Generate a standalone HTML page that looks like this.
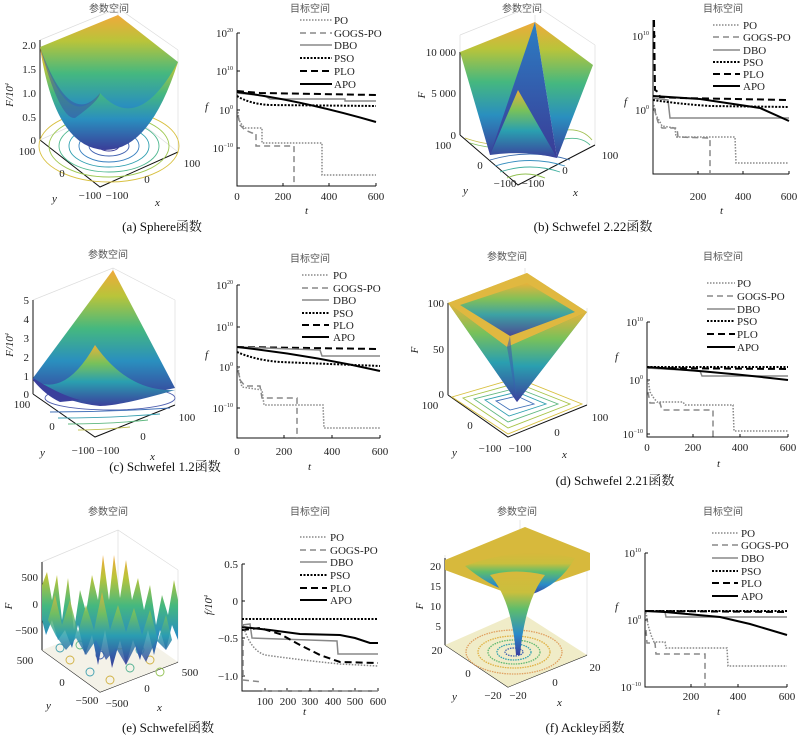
<!DOCTYPE html>
<html><head><meta charset="utf-8"><style>
body{margin:0;background:#fff}
svg{display:block}
.t{font-family:"Liberation Serif","Noto Serif CJK SC",serif;font-size:11px;fill:#222}
.s{font-size:6px}
.ti{font-family:"Noto Sans CJK SC",sans-serif;font-size:10px;fill:#555}
.cap{font-family:"Liberation Serif","Noto Serif CJK SC",serif;font-size:13px;fill:#111}
.it{font-style:italic}
.ax{stroke:#111;stroke-width:1;fill:none}
.gr{stroke:#ddd;stroke-width:0.7;fill:none}
.PO{stroke:#888;stroke-width:1.5;stroke-dasharray:1.5 1.5;fill:none}
.GO{stroke:#888;stroke-width:1.5;stroke-dasharray:6 4;fill:none}
.DB{stroke:#888;stroke-width:1.5;fill:none}
.PS{stroke:#000;stroke-width:2;stroke-dasharray:2 1.5;fill:none}
.PL{stroke:#000;stroke-width:2;stroke-dasharray:7 4;fill:none}
.AP{stroke:#000;stroke-width:2;fill:none}
</style></head><body>
<svg width="800" height="739" viewBox="0 0 800 739" xmlns="http://www.w3.org/2000/svg">
<defs>
<linearGradient id="g" x1="0" y1="0" x2="0" y2="1">
<stop offset="0" stop-color="#f0a93a"/><stop offset="0.2" stop-color="#b9c43a"/><stop offset="0.45" stop-color="#45b87f"/><stop offset="0.7" stop-color="#2a8fbf"/><stop offset="1" stop-color="#3a3d98"/></linearGradient>
<linearGradient id="g2" x1="0" y1="0" x2="0" y2="1">
<stop offset="0" stop-color="#e8b13a"/><stop offset="0.3" stop-color="#78c15a"/><stop offset="0.6" stop-color="#2a9fb0"/><stop offset="1" stop-color="#3b3f9c"/></linearGradient>
<linearGradient id="gd" x1="0" y1="0" x2="0" y2="1">
<stop offset="0" stop-color="#2c7fc4"/><stop offset="1" stop-color="#3a3b96"/></linearGradient>
<linearGradient id="gk" x1="0" y1="0" x2="0" y2="1">
<stop offset="0" stop-color="#d7b83c"/><stop offset="0.25" stop-color="#c9bf3d"/><stop offset="0.45" stop-color="#5ebd6c"/><stop offset="0.75" stop-color="#2a8bc8"/><stop offset="1" stop-color="#3a3ea0"/></linearGradient>
</defs>

<!-- ===== (a) ===== -->
<text class="ti" x="109" y="12" text-anchor="middle">参数空间</text>
<g class="gr"><path d="M118,105 L118,10 M40,140 L40,40 M178,152 L178,50 M40,40 L118,8 L178,50 M118,105 L40,140 M118,105 L178,152"/></g>
<path d="M40,140 L100,187 L178,152" class="ax"/><path d="M40,140 L40,40" class="ax"/>
<g fill="none" stroke-width="0.9">
<ellipse cx="109" cy="146" rx="70" ry="36" stroke="#d8c040"/><ellipse cx="109" cy="146" rx="60" ry="31" stroke="#9ec850"/><ellipse cx="109" cy="146" rx="50" ry="26" stroke="#50b890"/><ellipse cx="109" cy="146" rx="40" ry="21" stroke="#30a0b0"/><ellipse cx="109" cy="146" rx="30" ry="16" stroke="#3880c0"/><ellipse cx="109" cy="146" rx="20" ry="10" stroke="#4060b0"/><ellipse cx="109" cy="146" rx="10" ry="5" stroke="#3e3e98"/></g>
<path d="M40,47 L118,15 L178,62 Q150,140 105,145 Q55,140 40,47 Z" fill="url(#g)"/>
<path d="M40,47 Q68,135 100,93 Q138,135 178,62 Q150,150 105,150 Q55,148 40,47 Z" fill="url(#g)"/>
<path d="M40,47 Q60,120 75,118 Q100,100 100,93 Q70,130 40,47 Z" fill="#3b4ea0" opacity="0.5"/>
<g class="t" text-anchor="end"><text x="36" y="49">2.0</text><text x="36" y="73">1.5</text><text x="36" y="97">1.0</text><text x="36" y="121">0.5</text><text x="36" y="144">0</text></g>
<text class="t it" transform="translate(13,95) rotate(-90)" text-anchor="middle">F/10<tspan class="s" dy="-4">4</tspan></text>
<g class="t" text-anchor="middle"><text x="27" y="155">100</text><text x="62" y="177">0</text><text x="90" y="199">−100</text><text x="117" y="199">−100</text><text x="147" y="183">0</text><text x="192" y="167">100</text></g>
<text class="t it" x="52" y="202">y</text><text class="t it" x="155" y="206">x</text>

<text class="ti" x="310" y="12" text-anchor="middle">目标空间</text>
<path class="ax" d="M237,33 L237,186 L376,186"/>
<g class="ax"><path d="M237,33h3M237,71h3M237,110h3M237,148h3M283,186v-3M329,186v-3M376,186v-3"/></g>
<g class="t" text-anchor="end"><text x="233" y="37">10<tspan class="s" dy="-5">20</tspan></text><text x="233" y="75">10<tspan class="s" dy="-5">10</tspan></text><text x="233" y="114">10<tspan class="s" dy="-5">0</tspan></text><text x="233" y="152">10<tspan class="s" dy="-5">−10</tspan></text></g>
<g class="t" text-anchor="middle"><text x="237" y="200">0</text><text x="283" y="200">200</text><text x="329" y="200">400</text><text x="376" y="200">600</text></g>
<text class="t it" x="205" y="110">f</text><text class="t it" x="305" y="214">t</text>
<path class="PO" d="M300,20h32"/><path class="GO" d="M300,33h32"/><path class="DB" d="M300,45h32"/><path class="PS" d="M300,58h32"/><path class="PL" d="M300,71h32"/><path class="AP" d="M300,84h32"/>
<g class="t"><text x="334" y="24">PO</text><text x="334" y="37">GOGS-PO</text><text x="334" y="49">DBO</text><text x="334" y="62">PSO</text><text x="334" y="75">PLO</text><text x="334" y="88">APO</text></g>
<path class="PL" d="M237,91 L260,93 L376,95"/>
<path class="DB" d="M237,93 L265,96 L270,99 L345,99 L345,101 L376,101"/>
<path class="PS" d="M237,96 Q250,104 270,105 L376,106"/>
<path class="AP" d="M237,92 Q300,100 376,122"/>
<path class="PO" d="M238,112 L239,120 L242,125 L245,128 L262,128 L262,143 L322,143 L322,175 L376,175"/>
<path class="GO" d="M238,115 L240,125 L245,130 L252,133 L256,133 L256,146 L294,146 L294,186"/>
<text class="cap" x="162" y="231" text-anchor="middle">(a) Sphere函数</text>

<!-- ===== (b) ===== -->
<text class="ti" x="522" y="12" text-anchor="middle">参数空间</text>
<g class="gr"><path d="M535,100 L535,15 M460,135 L460,35 M595,145 L595,45 M460,35 L535,5 L595,45"/></g>
<path d="M460,135 L518,185 L595,145" class="ax"/><path d="M460,135 L460,52" class="ax"/>
<g fill="none" stroke-width="0.9">
<path d="M465,138 Q500,150 520,140" stroke="#c8c050"/><path d="M470,143 Q500,152 525,145" stroke="#80c060"/><path d="M490,160 Q530,148 570,160" stroke="#4070b0"/><path d="M495,166 Q530,155 565,166" stroke="#3a90c0"/><path d="M500,172 Q530,162 560,172" stroke="#40b0a0"/><path d="M507,178 Q525,170 545,178" stroke="#90c050"/><path d="M560,140 Q580,135 590,145" stroke="#50b890"/><path d="M555,132 Q580,125 592,140" stroke="#a0c050"/></g>
<path d="M460,52 L490,155 L518,122 L535,22 Z" fill="url(#g)"/>
<path d="M535,22 L557,158 L593,65 Z" fill="url(#g)"/>
<path d="M490,155 L535,22 L557,158 L518,120 Z" fill="url(#gd)"/>
<path d="M490,155 L518,90 L557,158 Q525,150 490,155 Z" fill="url(#g2)"/>
<g class="t" text-anchor="end"><text x="456" y="56">10 000</text><text x="456" y="97">5 000</text><text x="456" y="139">0</text></g>
<text class="t it" transform="translate(425,95) rotate(-90)" text-anchor="middle">F</text>
<g class="t" text-anchor="middle"><text x="443" y="149">100</text><text x="480" y="169">0</text><text x="505" y="187">−100</text><text x="533" y="187">−100</text><text x="565" y="174">0</text><text x="610" y="159">100</text></g>
<text class="t it" x="463" y="194">y</text><text class="t it" x="573" y="196">x</text>

<text class="ti" x="723" y="12" text-anchor="middle">目标空间</text>
<path class="ax" d="M653,20 L653,174 L789,174"/>
<g class="ax"><path d="M653,36h3M653,110h3M698,174v-3M743,174v-3M789,174v-3"/></g>
<g class="t" text-anchor="end"><text x="649" y="40">10<tspan class="s" dy="-5">10</tspan></text><text x="649" y="114">10<tspan class="s" dy="-5">0</tspan></text></g>
<g class="t" text-anchor="middle"><text x="698" y="200">200</text><text x="743" y="200">400</text><text x="789" y="200">600</text></g>
<text class="t it" x="624" y="105">f</text><text class="t it" x="720" y="214">t</text>
<path class="PO" d="M713,25h27"/><path class="GO" d="M713,37h27"/><path class="DB" d="M713,50h27"/><path class="PS" d="M713,62h27"/><path class="PL" d="M713,74h27"/><path class="AP" d="M713,86h27"/>
<g class="t"><text x="743" y="29">PO</text><text x="743" y="41">GOGS-PO</text><text x="743" y="54">DBO</text><text x="743" y="66">PSO</text><text x="743" y="78">PLO</text><text x="743" y="90">APO</text></g>
<path class="PL" d="M654,20 L655,90 L658,92 L660,97 L680,98 L789,100"/>
<path class="DB" d="M653,98 L668,100 L670,118 L789,118"/>
<path class="PS" d="M653,100 Q680,104 710,106 L789,107"/>
<path class="AP" d="M653,96 L700,99 L760,108 L789,121"/>
<path class="PO" d="M654,105 L656,115 L660,122 L662,126 L675,128 L676,137 L735,137 L736,163 L789,163"/>
<path class="GO" d="M654,108 L658,122 L662,128 L677,128 L678,137 L710,138 L710,174"/>
<text class="cap" x="593" y="231" text-anchor="middle">(b) Schwefel 2.22函数</text>

<!-- ===== (c) ===== -->
<text class="ti" x="108" y="258" text-anchor="middle">参数空间</text>
<g class="gr"><path d="M113,355 L113,268 M33,394 L33,300 M175,405 L175,300 M33,300 L113,268 L175,300"/></g>
<path d="M33,394 L95,437 L175,405" class="ax"/><path d="M33,394 L33,300" class="ax"/>
<g fill="none" stroke-width="0.9">
<ellipse cx="110" cy="398" rx="65" ry="12" stroke="#5060b0"/><path d="M50,412 Q110,412 170,408" stroke="#4070b8"/><path d="M58,418 Q110,418 160,414" stroke="#3aa0b0"/><path d="M68,424 Q110,424 148,420" stroke="#60b880"/><path d="M78,430 Q100,430 130,427" stroke="#c0c050"/></g>
<path d="M33,378 L113,270 L175,388 Q120,400 95,400 Q50,395 33,378 Z" fill="url(#g)"/>
<path d="M33,380 Q65,398 95,345 Q128,392 175,390 Q120,406 100,406 Q60,402 33,380 Z" fill="url(#g2)"/>
<path d="M33,378 Q60,395 80,400 L60,402 Q45,395 33,380 Z" fill="#3a3f9c"/>
<g class="t" text-anchor="end"><text x="29" y="304">5</text><text x="29" y="323">4</text><text x="29" y="342">3</text><text x="29" y="361">2</text><text x="29" y="380">1</text><text x="29" y="398">0</text></g>
<text class="t it" transform="translate(13,345) rotate(-90)" text-anchor="middle">F/10<tspan class="s" dy="-4">4</tspan></text>
<g class="t" text-anchor="middle"><text x="22" y="408">100</text><text x="52" y="430">0</text><text x="83" y="454">−100</text><text x="108" y="454">−100</text><text x="143" y="440">0</text><text x="187" y="421">100</text></g>
<text class="t it" x="40" y="456">y</text><text class="t it" x="150" y="460">x</text>

<text class="ti" x="310" y="262" text-anchor="middle">目标空间</text>
<path class="ax" d="M237,285 L237,438 L380,438"/>
<g class="ax"><path d="M237,285h3M237,327h3M237,367h3M237,408h3M284,438v-3M332,438v-3M380,438v-3"/></g>
<g class="t" text-anchor="end"><text x="233" y="289">10<tspan class="s" dy="-5">20</tspan></text><text x="233" y="331">10<tspan class="s" dy="-5">10</tspan></text><text x="233" y="371">10<tspan class="s" dy="-5">0</tspan></text><text x="233" y="412">10<tspan class="s" dy="-5">−10</tspan></text></g>
<g class="t" text-anchor="middle"><text x="237" y="455">0</text><text x="284" y="455">200</text><text x="332" y="455">400</text><text x="380" y="455">600</text></g>
<text class="t it" x="205" y="358">f</text><text class="t it" x="308" y="470">t</text>
<path class="PO" d="M302,275h27"/><path class="GO" d="M302,288h27"/><path class="DB" d="M302,300h27"/><path class="PS" d="M302,313h27"/><path class="PL" d="M302,325h27"/><path class="AP" d="M302,337h27"/>
<g class="t"><text x="333" y="279">PO</text><text x="333" y="292">GOGS-PO</text><text x="333" y="304">DBO</text><text x="333" y="317">PSO</text><text x="333" y="329">PLO</text><text x="333" y="341">APO</text></g>
<path class="PL" d="M237,347 L380,349"/>
<path class="DB" d="M237,347 L320,350 L322,356 L380,356"/>
<path class="PS" d="M237,352 Q255,360 280,362 L380,366"/>
<path class="AP" d="M237,347 Q310,355 380,371"/>
<path class="PO" d="M238,367 L240,380 L242,387 L262,390 L264,405 L323,405 L324,428 L380,428"/>
<path class="GO" d="M238,370 L240,380 L245,386 L260,386 L262,398 L297,398 L297,438"/>
<text class="cap" x="165" y="471" text-anchor="middle">(c) Schwefel 1.2函数</text>

<!-- ===== (d) ===== -->
<text class="ti" x="507" y="260" text-anchor="middle">参数空间</text>
<g class="gr"><path d="M525,360 L525,268 M448,395 L448,300 M587,405 L587,308"/></g>
<path d="M448,395 L508,437 L587,405" class="ax"/><path d="M448,395 L448,303" class="ax"/>
<g fill="none" stroke-width="0.9">
<path d="M517,378 L582,404 L508,434 L452,397 Z" stroke="#d8c040"/><path d="M517,383 L570,404 L508,428 L463,398 Z" stroke="#a8c448"/><path d="M517,388 L558,404 L508,422 L474,399 Z" stroke="#60b880"/><path d="M517,392 L546,404 L509,416 L485,400 Z" stroke="#30a0b0"/><path d="M517,396 L534,404 L510,410 L496,401 Z" stroke="#4070b8"/></g>
<path d="M448,303 L527,273 L587,312 L517,402 Z" fill="url(#g2)"/>
<path d="M448,303 L527,273 L587,312 L507,347 Z" fill="#e0b840"/>
<path d="M460,305 L527,283 L575,312 L510,336 Z" fill="url(#g2)" opacity="0.9"/>
<path d="M448,303 L507,347 L517,402 Z" fill="url(#g2)"/>
<path d="M587,312 L507,347 L517,402 Z" fill="url(#g2)"/>
<path d="M510,336 L507,347 L517,402 Z" fill="#3b5fae" opacity="0.6"/>
<g class="t" text-anchor="end"><text x="444" y="307">100</text><text x="444" y="353">50</text><text x="444" y="398">0</text></g>
<text class="t it" transform="translate(418,350) rotate(-90)" text-anchor="middle">F</text>
<g class="t" text-anchor="middle"><text x="430" y="409">100</text><text x="470" y="429">0</text><text x="490" y="452">−100</text><text x="520" y="452">−100</text><text x="557" y="436">0</text><text x="600" y="421">100</text></g>
<text class="t it" x="452" y="456">y</text><text class="t it" x="562" y="458">x</text>

<text class="ti" x="723" y="260" text-anchor="middle">目标空间</text>
<path class="ax" d="M647,322 L647,437 L788,437"/>
<g class="ax"><path d="M647,322h3M647,380h3M647,434h3M693,437v-3M740,437v-3M788,437v-3"/></g>
<g class="t" text-anchor="end"><text x="643" y="326">10<tspan class="s" dy="-5">10</tspan></text><text x="643" y="384">10<tspan class="s" dy="-5">0</tspan></text><text x="643" y="438">10<tspan class="s" dy="-5">−10</tspan></text></g>
<g class="t" text-anchor="middle"><text x="647" y="451">0</text><text x="693" y="451">200</text><text x="740" y="451">400</text><text x="788" y="451">600</text></g>
<text class="t it" x="615" y="360">f</text><text class="t it" x="717" y="467">t</text>
<path class="PO" d="M707,283h28"/><path class="GO" d="M707,296h28"/><path class="DB" d="M707,309h28"/><path class="PS" d="M707,321h28"/><path class="PL" d="M707,334h28"/><path class="AP" d="M707,347h28"/>
<g class="t"><text x="737" y="287">PO</text><text x="737" y="300">GOGS-PO</text><text x="737" y="313">DBO</text><text x="737" y="325">PSO</text><text x="737" y="338">PLO</text><text x="737" y="351">APO</text></g>
<path class="PL" d="M647,368 L788,369"/>
<path class="PS" d="M647,367 L788,367"/>
<path class="DB" d="M647,368 L700,371 L702,376 L788,376"/>
<path class="AP" d="M647,367 Q720,372 788,380"/>
<path class="PO" d="M648,380 L650,392 L653,397 L657,402 L683,402 L685,405 L733,405 L734,431 L788,431"/>
<path class="GO" d="M648,392 L650,403 L660,403 L662,410 L713,410 L713,437"/>
<text class="cap" x="615" y="485" text-anchor="middle">(d) Schwefel 2.21函数</text>

<!-- ===== (e) ===== -->
<text class="ti" x="108" y="515" text-anchor="middle">参数空间</text>
<g class="gr"><path d="M118,620 L118,530 M42,650 L42,562 M178,662 L178,570 M42,562 L118,530 L178,570"/></g>
<path d="M42,650 L100,692 L178,662" class="ax"/><path d="M42,650 L42,562" class="ax"/>
<path d="M42,650 L118,620 L178,662 L100,692 Z" fill="#f4f2e8"/>
<g fill="none" stroke-width="0.9">
<circle cx="70" cy="660" r="4" stroke="#d0b040"/><circle cx="90" cy="672" r="4" stroke="#40a0b0"/><circle cx="110" cy="680" r="4" stroke="#d0b040"/><circle cx="130" cy="668" r="4" stroke="#50b090"/><circle cx="150" cy="660" r="4" stroke="#d0b040"/><circle cx="100" cy="655" r="4" stroke="#4060b0"/><circle cx="80" cy="645" r="4" stroke="#60b880"/><circle cx="120" cy="645" r="4" stroke="#d0b040"/><circle cx="140" cy="650" r="4" stroke="#40a0b0"/><circle cx="160" cy="672" r="4" stroke="#90c050"/><circle cx="60" cy="648" r="4" stroke="#40a0b0"/></g>
<path d="M42,585 L47,572 L52,600 L57,575 L62,620 L68,578 L74,630 L80,590 L86,612 L92,575 L98,600 L103,555 L109,600 L114,555 L120,598 L126,560 L132,600 L138,578 L144,610 L150,585 L156,625 L162,595 L168,615 L174,580 L178,600 L178,640 L172,625 L166,650 L160,630 L154,655 L148,630 L140,660 L133,640 L126,665 L120,640 L112,668 L105,630 L98,665 L92,635 L85,655 L78,625 L72,648 L65,630 L58,640 L52,620 L46,635 L42,620 Z" fill="url(#g)"/>
<path d="M48,620 L55,595 L62,625 L70,600 L78,632 L86,605 L94,630 L102,592 L110,630 L118,605 L126,632 L134,608 L142,635 L150,610 L158,640 L166,615 L172,640 L166,650 L156,640 L146,662 L136,645 L126,665 L116,648 L106,660 L96,640 L86,655 L76,638 L66,650 L56,636 Z" fill="url(#g2)" opacity="0.85"/>
<g class="t" text-anchor="end"><text x="38" y="581">500</text><text x="38" y="608">0</text><text x="38" y="634">−500</text></g>
<text class="t it" transform="translate(12,606) rotate(-90)" text-anchor="middle">F</text>
<g class="t" text-anchor="middle"><text x="25" y="664">500</text><text x="62" y="686">0</text><text x="87" y="704">−500</text><text x="117" y="707">−500</text><text x="147" y="692">0</text><text x="190" y="676">500</text></g>
<text class="t it" x="46" y="709">y</text><text class="t it" x="157" y="711">x</text>

<text class="ti" x="310" y="515" text-anchor="middle">目标空间</text>
<path class="ax" d="M242,564 L242,691 L378,691"/>
<g class="ax"><path d="M242,564h3M242,601h3M242,638h3M242,676h3M265,691v-3M287,691v-3M310,691v-3M333,691v-3M355,691v-3M378,691v-3"/></g>
<g class="t" text-anchor="end"><text x="238" y="568">0.5</text><text x="238" y="605">0</text><text x="238" y="642">−0.5</text><text x="238" y="680">−1.0</text></g>
<g class="t" text-anchor="middle"><text x="265" y="705">100</text><text x="288" y="705">200</text><text x="310" y="705">300</text><text x="333" y="705">400</text><text x="355" y="705">500</text><text x="378" y="705">600</text></g>
<text class="t it" transform="translate(212,605) rotate(-90)" text-anchor="middle">f/10<tspan class="s" dy="-4">4</tspan></text><text class="t it" x="303" y="715">t</text>
<path class="PO" d="M300,537h27"/><path class="GO" d="M300,550h27"/><path class="DB" d="M300,562h27"/><path class="PS" d="M300,575h27"/><path class="PL" d="M300,588h27"/><path class="AP" d="M300,600h27"/>
<g class="t"><text x="330" y="541">PO</text><text x="330" y="554">GOGS-PO</text><text x="330" y="566">DBO</text><text x="330" y="579">PSO</text><text x="330" y="592">PLO</text><text x="330" y="604">APO</text></g>
<path class="PS" d="M242,619 L378,619"/>
<path class="DB" d="M242,625 L250,624 L252,638 L337,641 L338,654 L378,654"/>
<path class="PL" d="M242,630 L260,628 L280,634 L300,645 L320,655 L340,662 L378,663"/>
<path class="AP" d="M242,627 L270,630 L300,634 L340,635 L355,638 L370,643 L378,643"/>
<path class="PO" d="M243,625 Q250,650 265,655 Q300,660 340,664 L378,666"/>
<path class="GO" d="M243,640 L243,680 L262,682 M262,691 L378,691"/>
<text class="cap" x="168" y="732" text-anchor="middle">(e) Schwefel函数</text>

<!-- ===== (f) ===== -->
<text class="ti" x="517" y="515" text-anchor="middle">参数空间</text>
<g class="gr"><path d="M520,612 L520,520 M445,645 L445,555 M587,655 L587,560"/></g>
<path d="M445,645 L508,687 L587,655" class="ax"/><path d="M445,645 L445,558" class="ax"/>
<path d="M445,645 L520,612 L587,655 L508,687 Z" fill="#f0ecc8"/>
<g fill="none" stroke-width="1.3" stroke-dasharray="1.5 1">
<ellipse cx="514" cy="652" rx="48" ry="22" stroke="#e0a060"/><ellipse cx="514" cy="652" rx="36" ry="16" stroke="#e0b040"/><ellipse cx="514" cy="652" rx="26" ry="12" stroke="#60b870"/><ellipse cx="514" cy="652" rx="17" ry="8" stroke="#30a0b0"/><ellipse cx="514" cy="652" rx="9" ry="4" stroke="#4060b0"/></g>
<path d="M445,560 L525,527 L590,553 L590,570 L515,596 L445,570 Z" fill="#d7b93c"/>
<path d="M465,566 Q520,545 575,558 Q560,585 530,595 Q500,595 465,566 Z" fill="url(#gk)"/>
<path d="M490,575 Q515,568 545,575 Q525,600 520,655 L516,655 Q512,600 490,575 Z" fill="url(#gk)"/>
<g class="t" text-anchor="end"><text x="441" y="570">20</text><text x="441" y="590">15</text><text x="441" y="610">10</text><text x="441" y="630">5</text></g>
<text class="t it" transform="translate(423,606) rotate(-90)" text-anchor="middle">F</text>
<g class="t" text-anchor="middle"><text x="437" y="654">20</text><text x="468" y="677">0</text><text x="493" y="699">−20</text><text x="518" y="699">−20</text><text x="555" y="686">0</text><text x="595" y="671">20</text></g>
<text class="t it" x="452" y="700">y</text><text class="t it" x="557" y="706">x</text>

<text class="ti" x="723" y="515" text-anchor="middle">目标空间</text>
<path class="ax" d="M645,553 L645,687 L787,687"/>
<g class="ax"><path d="M645,553h3M645,620h3M691,687v-3M738,687v-3M787,687v-3"/></g>
<g class="t" text-anchor="end"><text x="641" y="557">10<tspan class="s" dy="-5">10</tspan></text><text x="641" y="624">10<tspan class="s" dy="-5">0</tspan></text><text x="641" y="691">10<tspan class="s" dy="-5">−10</tspan></text></g>
<g class="t" text-anchor="middle"><text x="691" y="700">200</text><text x="738" y="700">400</text><text x="787" y="700">600</text></g>
<text class="t it" x="615" y="610">f</text><text class="t it" x="717" y="715">t</text>
<path class="PO" d="M712,533h26"/><path class="GO" d="M712,545h26"/><path class="DB" d="M712,558h26"/><path class="PS" d="M712,571h26"/><path class="PL" d="M712,583h26"/><path class="AP" d="M712,596h26"/>
<g class="t"><text x="741" y="537">PO</text><text x="741" y="549">GOGS-PO</text><text x="741" y="562">DBO</text><text x="741" y="575">PSO</text><text x="741" y="587">PLO</text><text x="741" y="600">APO</text></g>
<path class="PS" d="M645,611 L787,611"/>
<path class="PL" d="M645,611 L787,612"/>
<path class="DB" d="M645,611 L665,612 L666,617 L787,617"/>
<path class="AP" d="M645,611 L665,612 L720,617 L750,624 L787,635"/>
<path class="PO" d="M646,612 L648,625 L651,635 L654,642 L665,642 L666,648 L727,648 L728,666 L787,666"/>
<path class="GO" d="M646,630 L647,643 L655,643 L656,654 L705,654 L705,687"/>
<text class="cap" x="585" y="732" text-anchor="middle">(f) Ackley函数</text>
</svg>
</body></html>
